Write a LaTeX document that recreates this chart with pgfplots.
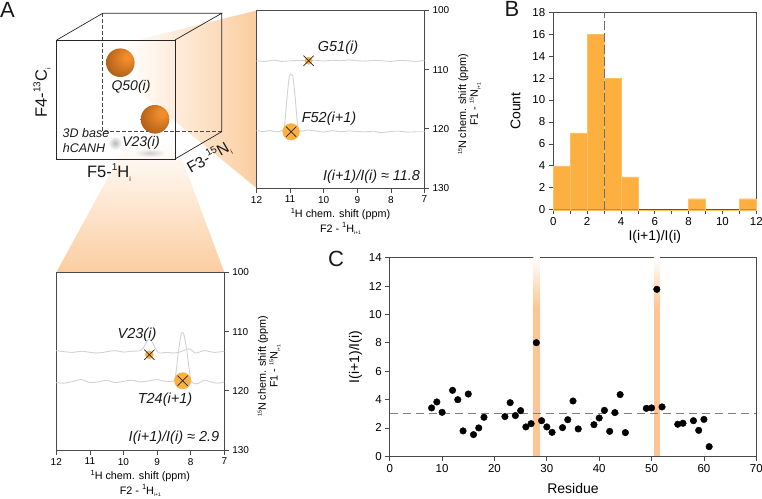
\documentclass[border=0pt]{standalone}
\usepackage{pgfplots}
\pgfplotsset{compat=1.18}
\usepackage{fontspec}
\setmainfont{Liberation Sans}
\usetikzlibrary{shadings}

\definecolor{axisc}{HTML}{4A4A4A}
\definecolor{barc}{HTML}{FDB03F}
\definecolor{wedge}{HTML}{FBCDA0}
\definecolor{bandc}{HTML}{FDC593}
\definecolor{specc}{HTML}{D2D2D2}
\definecolor{ballin}{HTML}{F08C2A}
\definecolor{ballout}{HTML}{A85C18}

\pgfdeclareradialshading{sphere}{\pgfpoint{14bp}{12bp}}{%
  color(0bp)=(ballin); color(6bp)=(ballin); color(34bp)=(ballout); color(50bp)=(ballout)}

\newcommand\fs[1]{\fontsize{#1}{#1}\selectfont}
\newcommand\up[1]{\raisebox{.75ex}{\fs{7.5}#1}}
\newcommand\upt[1]{\raisebox{.75ex}{\fs{5.5}#1}}
\newcommand\dn[1]{\raisebox{-.45ex}{\fs{5}#1}}
\newcommand\upc[1]{\raisebox{.75ex}{\fs{10}#1}}
\newcommand\dnc[1]{\raisebox{-.45ex}{\fs{7}#1}}

\pgfplotsset{
  base/.style={
    scale only axis,
    anchor=south west,
    axis line style={axisc,line width=.9pt},
    tick style={axisc,line width=.7pt},
    major tick length=4.5pt,
    minor tick length=4.5pt,
    tick align=outside,
    /pgf/number format/assume math mode=true,
    clip=false,
  },
  nmr/.style={
    base,
    width=168pt,height=177.5pt,
    x dir=reverse,y dir=reverse,
    xmin=7,xmax=12,ymin=100,ymax=130,
    xtick={7,8,9,10,11,12},ytick={100,110,120,130},
    xtick pos=bottom,ytick pos=right,yticklabel pos=right,
    tick label style={font=\fs{10}},
    xlabel style={font=\fs{10.8},align=center,yshift=2pt},
    ylabel style={font=\fs{10.8},align=center,xshift=-5pt,yshift=-2pt},
    xlabel={\up{1}H chem. shift (ppm)\\[2pt]F2 - \up{1}H\dn{i+1}},
    ylabel={\upt{15}N chem. shift (ppm)\\[1pt]F1 - \upt{15}N\dn{i+1}},
  },
  spec/.style={specc,line width=.9pt,smooth,tension=.5,no marks},
}

\begin{document}
\begin{tikzpicture}
\useasboundingbox (0,0) rectangle (762pt,498pt);

% wedges and cube, in picture pixels (y downwards)
\begin{scope}[x=1pt,y=-1pt,yshift=498pt]
\shade[left color=white,right color=wedge]
  (125,43) -- (256.5,10.5) -- (256.5,188) -- (143,95) -- cycle;
\shade[top color=white,bottom color=wedge]
  (123,150) -- (175,140) -- (224.3,272.3) -- (56.3,272.3) -- cycle;
\shade[inner color=black!40,outer color=white,opacity=.7] (115,143) ellipse (7 and 7);
\shade[inner color=black!30,outer color=white,opacity=.6] (150,153) ellipse (16 and 4.5);
\draw[axisc,line width=.8pt,dash pattern=on 3.5pt off 2.5pt] (102.7,13.3) -- (102.7,131.7) -- (221.7,131.7);
\draw[black!85,line width=.7pt] (56.7,40) rectangle (175,159);
\draw[black!85,line width=.7pt] (56.7,40) -- (102.7,13.3) -- (221.7,13.3) -- (175,40)
  (221.7,13.3) -- (221.7,131.7) -- (175,159);
\shade[shading=sphere] (120.3,62.7) circle (14.3);
\shade[shading=sphere] (155,119.3) circle (14.3);
\end{scope}

% panel A, top spectrum
\begin{axis}[nmr,at={(256.5pt,310pt)}]
\addplot[spec] coordinates {
(12,108.5)(11.75,108.6)(11.5,108.4)(11.25,108.6)(11,108.5)(10.75,108.45)(10.5,108.5)
(10.25,108.4)(10,108.55)(9.75,108.4)(9.5,108.5)(9.25,108.35)(9,108.5)(8.75,108.55)
(8.5,108.45)(8.25,108.5)(8,108.6)(7.75,108.45)(7.5,108.5)(7.25,108.6)(7,108.4)};
\addplot[spec] coordinates {
(12,120.3)(11.8,120.45)(11.6,120.3)(11.4,120.5)(11.25,120.3)(11.17,119.6)(11.08,114)
(11.02,111)(10.97,110.9)(10.92,111.1)(10.86,114)(10.77,119.6)(10.68,120.4)(10.5,120.2)
(10.25,120.35)(10,120.55)(9.75,120.3)(9.5,120.5)(9.25,120.35)(9,120.45)(8.75,120.5)
(8.5,120.4)(8.3,120.65)(8,120.45)(7.75,120.4)(7.5,120.55)(7.25,120.5)(7,120.5)};
\addplot[only marks,mark=*,mark size=8.3pt,barc,mark options={draw=none}] coordinates {(10.97,120.5)};
\addplot[only marks,mark=*,mark size=3.6pt,barc,mark options={draw=none}] coordinates {(10.45,108.5)};
\addplot[only marks,mark=x,mark size=7.2pt,black!85,mark options={line width=.7pt}] coordinates {(10.97,120.5)(10.45,108.5)};
\end{axis}

% panel A, bottom spectrum
\begin{axis}[nmr,at={(56.3pt,48pt)}]
\addplot[spec] coordinates {
(12,113.2)(11.75,113.4)(11.5,113.5)(11.25,113.3)(11,113.5)(10.75,113.6)(10.5,113.4)
(10.25,113.2)(10,113.45)(9.75,113.3)(9.5,113.2)(9.38,112.5)(9.3,111.6)(9.23,111.3)
(9.16,111.6)(9.08,112.5)(8.95,113.6)(8.75,113.5)(8.5,113.6)(8.3,113.4)(8.05,112.9)
(7.85,113.6)(7.6,113.2)(7.3,113.5)(7,113.3)};
\addplot[spec] coordinates {
(12,118.6)(11.75,118.7)(11.5,118.4)(11.25,118.1)(11,118.6)(10.75,118.5)(10.5,118.2)
(10.25,118.6)(10,118.4)(9.75,118.2)(9.5,118.5)(9.25,118.3)(9,118.1)(8.75,118.4)(8.5,118.3)
(8.44,117)(8.36,113)(8.28,110.4)(8.24,110.2)(8.2,110.5)(8.12,113)(8.03,117)(7.98,118.5)
(7.8,118.8)(7.6,118.2)(7.4,118.5)(7.2,118.7)(7,118.5)};
\addplot[only marks,mark=*,mark size=8.2pt,barc,mark options={draw=none}] coordinates {(8.24,118.3)};
\addplot[only marks,mark=*,mark size=4pt,barc,mark options={draw=none}] coordinates {(9.23,113.9)};
\addplot[only marks,mark=x,mark size=7.2pt,black!85,mark options={line width=.7pt}] coordinates {(8.24,118.3)(9.23,113.9)};
\end{axis}

% panel B
\begin{axis}[base,at={(553.3pt,288.3pt)},width=203pt,height=197.4pt,
  xmin=0,xmax=12,ymin=0,ymax=18,
  xtick={0,2,...,12},minor xtick={1,3,...,11},ytick={0,2,...,18},
  xtick pos=bottom,ytick pos=left,
  tick label style={font=\fs{11.5}},
  xlabel={I(i+1)/I(i)},ylabel={Count},
  label style={font=\fs{14}},
  xlabel style={yshift=2pt},ylabel style={yshift=5pt},
]
\addplot[ybar interval,fill=barc,draw=barc!80!white,line width=.3pt] coordinates {
(0,4)(1,7)(2,16)(3,12)(4,3)(5,0)(6,0)(7,0)(8,1)(9,0)(10,0)(11,1)(12,1)};
\addplot[axisc!80,line width=.8pt,dash pattern=on 9pt off 3pt] coordinates {(3,0)(3,18)};
\end{axis}

% panel C
\begin{axis}[base,at={(389.7pt,41.7pt)},width=366.6pt,height=198.6pt,
  xmin=0,xmax=70,ymin=0,ymax=14,
  xtick={0,10,...,70},ytick={0,2,...,14},
  xtick pos=bottom,ytick pos=left,
  tick label style={font=\fs{11.5}},
  xlabel={Residue},ylabel={I(i+1)/I(i)},
  label style={font=\fs{14}},
  xlabel style={yshift=-4.5pt},ylabel style={yshift=0pt},
]
\addplot[draw=none,fill=bandc] coordinates {(27.45,0)(27.45,10.5)(28.65,10.5)(28.65,0)} -- cycle;
\addplot[draw=none,top color=white,bottom color=bandc] coordinates {(27.45,10.5)(27.45,14)(28.65,14)(28.65,10.5)} -- cycle;
\addplot[draw=none,fill=bandc] coordinates {(50.45,0)(50.45,10.5)(51.65,10.5)(51.65,0)} -- cycle;
\addplot[draw=none,top color=white,bottom color=bandc] coordinates {(50.45,10.5)(50.45,14)(51.65,14)(51.65,10.5)} -- cycle;
\addplot[black!50,line width=.7pt,dash pattern=on 8pt off 5pt] coordinates {(0,3)(70,3)};
\addplot[only marks,mark=*,mark size=3.3pt,black] coordinates {
(8,3.41)(9,3.83)(10,3.10)(12,4.65)(13,3.99)(14,1.79)(15,4.39)(16,1.53)(17,2.0)(18,2.75)
(22,2.8)(23,3.78)(24,2.87)(25,3.22)(26,2.07)(27,2.3)(28,8.01)(29,2.51)(30,2.07)(31,1.69)
(33,2.02)(34,2.58)(35,3.9)(36,1.93)(39,2.23)(40,2.7)(41,3.24)(42,1.76)(43,3.08)(44,4.35)
(45,1.67)(49,3.38)(50,3.41)(51,11.77)(52,3.48)(55,2.26)(56,2.33)(58,2.51)(59,1.83)(60,2.6)(61,0.68)};
\end{axis}

% text, in picture pixels
\begin{scope}[x=1pt,y=-1pt,yshift=498pt,every node/.style={inner sep=0pt,text=black!90}]
\node[font=\fs{22}] at (7.5,10) {A};
\node[font=\fs{22}] at (512,9) {B};
\node[font=\fs{22}] at (336,259) {C};
\node[font=\fs{16.5},rotate=90] at (42,93) {F4-\upc{13}C\dnc{i}};
\node[font=\fs{16.5}] at (109,172.7) {F5-\upc{1}H\dnc{i}};
\node[font=\fs{15.5},rotate=30] at (209,158) {F3-\upc{15}N\dnc{i}};
\node[font=\itshape\fs{14}] at (131,87) {Q50(i)};
\node[font=\itshape\fs{14}] at (141,143) {V23(i)};
\node[font=\itshape\fs{12.5}] at (86,133) {3D base};
\node[font=\itshape\fs{12.5}] at (84,148) {hCANH};
\node[font=\itshape\fs{14.5}] at (338,48) {G51(i)};
\node[font=\itshape\fs{14.5}] at (329,119) {F52(i+1)};
\node[font=\itshape\fs{14.5}] at (137,335) {V23(i)};
\node[font=\itshape\fs{14.5}] at (165,400) {T24(i+1)};
\node[font=\itshape\fs{14.4}] at (371.5,176.5) {I(i+1)/I(i) ≈ 11.8};
\node[font=\itshape\fs{14.5}] at (174,437.5) {I(i+1)/I(i) ≈ 2.9};
\end{scope}
\end{tikzpicture}
\end{document}
